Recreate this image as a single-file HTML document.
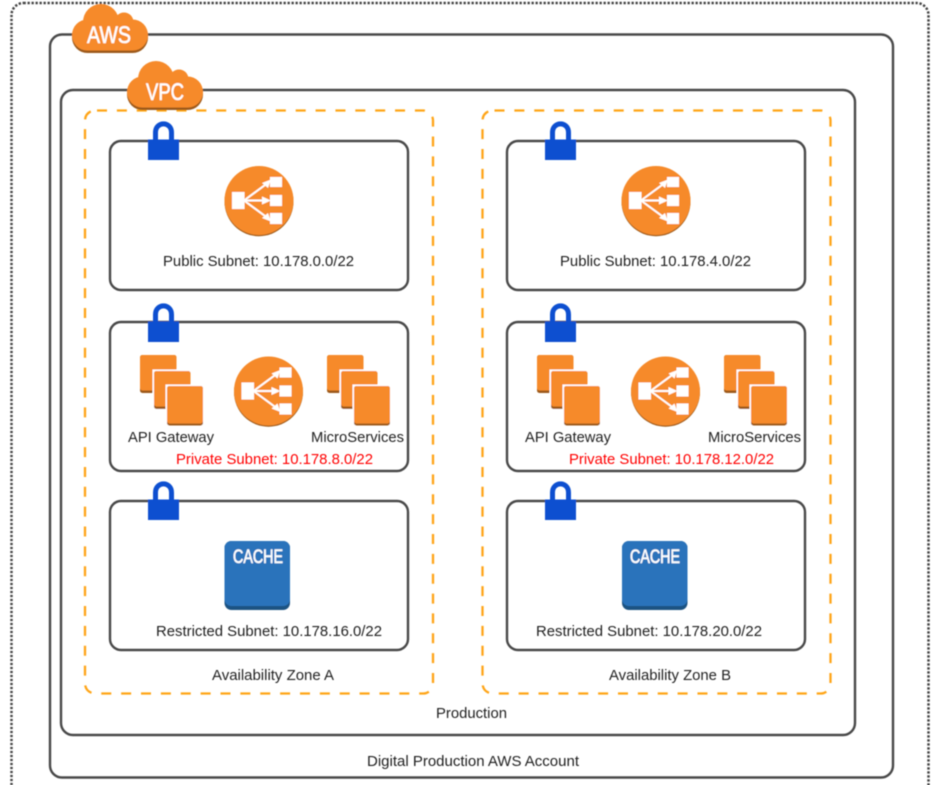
<!DOCTYPE html>
<html><head><meta charset="utf-8"><style>
html,body{margin:0;padding:0;background:#fff;overflow:hidden}
svg{display:block}
text{font-family:"Liberation Sans",sans-serif}
.l{font-size:14.700px;fill:#222}
.r{font-size:14.700px;fill:#f00}
.b{fill:none;stroke:#4a4a4a;stroke-width:2.400}
.d{fill:none;stroke:#ffa414;stroke-width:2.300;stroke-dasharray:10 9.870;stroke-dashoffset:-2}
.w{font-weight:400;fill:#fff;stroke:#fff;stroke-width:.5}
</style></head><body>
<svg width="936" height="785" viewBox="0 0 936 785" xmlns="http://www.w3.org/2000/svg">
<defs>
<filter id="s" x="-5%" y="-5%" width="110%" height="110%"><feGaussianBlur stdDeviation="0.4"/></filter>
<g id="lock"><path d="M155.500,141 V132.500 C155.500,121 171.500,121 171.500,132.500 V141" fill="none" stroke="#0b50d0" stroke-width="5"/><rect x="148" y="139.500" width="31" height="20.500" fill="#0b50d0"/></g>
<g id="cb"><circle cx="29" cy="19" r="18"/><circle cx="52" cy="19" r="9.500"/><circle cx="15.500" cy="32" r="15.500"/><circle cx="60.500" cy="32" r="15.500"/><rect x="15" y="19" width="46" height="28.500"/></g>
<g id="cloud"><use href="#cb" y="2.500" fill="#9d5a1c"/><use href="#cb" fill="#f68a2a"/></g>
<g id="lb">
<circle cx="0" cy="1.200" r="34.500" fill="#9d5a1c"/><circle cx="0" cy="0" r="34.500" fill="#f68a2a"/>
<g fill="#fff"><rect x="-27" y="-8.500" width="12.500" height="17"/><rect x="11" y="-23.500" width="12" height="10"/><rect x="11" y="-5.500" width="12" height="11"/><rect x="11" y="12.500" width="12" height="11"/>
<path d="M3,-17.500 L12,-21 L9,-12.500Z M3,-4 L12,0 L3,4Z M3,17.500 L12,21 L9,12.500Z"/></g>
<path d="M-15,0 L6,-15.500 M-15,0 H6 M-15,0 L6,15.500" stroke="#fff" stroke-width="2" fill="none"/>
</g>
<g id="sq"><rect x="0" y="0" width="36.500" height="38" rx="2.500" fill="#9d5a1c"/><rect x="0" y="0" width="36.500" height="35.500" rx="2.500" fill="#f68a2a"/></g>
<g id="stack"><use href="#sq" x="0" y="0"/><rect x="12.500" y="14.500" width="38" height="40" fill="#fff"/><use href="#sq" x="14" y="16"/><rect x="25.500" y="29.500" width="38" height="41" fill="#fff"/><rect x="27" y="31" width="36" height="39.500" rx="2.500" fill="#9d5a1c"/><rect x="27" y="31" width="36" height="37.500" rx="2.500" fill="#f68a2a"/></g>
<g id="cache"><rect x="224.500" y="541" width="65.500" height="69" rx="7" fill="#1e5282"/><rect x="224.500" y="541" width="65.500" height="65" rx="7" fill="#2b73bb"/></g>
</defs>
<g filter="url(#s)">
<rect x="11.500" y="3" width="917" height="800" rx="12" fill="none" stroke="#444" stroke-width="2.500" stroke-dasharray="2.300 1.700"/>
<rect class="b" x="50" y="34.500" width="843" height="743" rx="12"/>
<rect class="b" x="61" y="90" width="794" height="645" rx="12"/>
<rect class="d" x="85" y="110.500" width="348" height="583" rx="10"/>
<rect class="d" x="482.500" y="110.500" width="348" height="583" rx="10"/>

<rect class="b" x="110" y="141" width="298" height="149" rx="11"/>
<rect class="b" x="110" y="322" width="298" height="149" rx="11"/>
<rect class="b" x="110" y="501" width="298" height="149" rx="11"/>
<rect class="b" x="507" y="141" width="298" height="149" rx="11"/>
<rect class="b" x="507" y="322" width="298" height="149" rx="11"/>
<rect class="b" x="507" y="501" width="298" height="149" rx="11"/>

<use href="#cloud" x="72" y="3"/>
<text x="87" y="43" class="w" font-size="24" textLength="44" lengthAdjust="spacingAndGlyphs">AWS</text>
<use href="#cloud" x="127" y="60"/>
<text x="146" y="100" class="w" font-size="24" textLength="38" lengthAdjust="spacingAndGlyphs">VPC</text>

<use href="#lock"/><use href="#lock" y="182"/><use href="#lock" y="360"/>
<use href="#lock" x="397"/><use href="#lock" x="397" y="182"/><use href="#lock" x="397" y="360"/>

<use href="#lb" x="259" y="200.500"/><use href="#lb" x="656" y="200.500"/>
<use href="#lb" x="268.500" y="391"/><use href="#lb" x="665.500" y="391"/>

<use href="#stack" x="140" y="355"/><use href="#stack" x="327" y="355"/>
<use href="#stack" x="537" y="355"/><use href="#stack" x="724" y="355"/>

<use href="#cache"/><use href="#cache" x="397.500"/>
<text x="233" y="563" class="w" font-size="19" textLength="50" lengthAdjust="spacingAndGlyphs">CACHE</text>
<text x="630" y="563" class="w" font-size="19" textLength="50" lengthAdjust="spacingAndGlyphs">CACHE</text>

<text class="l" x="163" y="266" textLength="191" lengthAdjust="spacingAndGlyphs">Public Subnet: 10.178.0.0/22</text>
<text class="l" x="560" y="266" textLength="191" lengthAdjust="spacingAndGlyphs">Public Subnet: 10.178.4.0/22</text>
<text class="l" x="128" y="442" textLength="86" lengthAdjust="spacingAndGlyphs">API Gateway</text>
<text class="l" x="311" y="442" textLength="93" lengthAdjust="spacingAndGlyphs">MicroServices</text>
<text class="l" x="525" y="442" textLength="86" lengthAdjust="spacingAndGlyphs">API Gateway</text>
<text class="l" x="708" y="442" textLength="93" lengthAdjust="spacingAndGlyphs">MicroServices</text>
<text class="r" x="176" y="464" textLength="197" lengthAdjust="spacingAndGlyphs">Private Subnet: 10.178.8.0/22</text>
<text class="r" x="569" y="464" textLength="205" lengthAdjust="spacingAndGlyphs">Private Subnet: 10.178.12.0/22</text>
<text class="l" x="156" y="636" textLength="226" lengthAdjust="spacingAndGlyphs">Restricted Subnet: 10.178.16.0/22</text>
<text class="l" x="536" y="636" textLength="226" lengthAdjust="spacingAndGlyphs">Restricted Subnet: 10.178.20.0/22</text>
<text class="l" x="212" y="680" textLength="122" lengthAdjust="spacingAndGlyphs">Availability Zone A</text>
<text class="l" x="609" y="680" textLength="122" lengthAdjust="spacingAndGlyphs">Availability Zone B</text>
<text class="l" x="436" y="718" textLength="71" lengthAdjust="spacingAndGlyphs">Production</text>
<text class="l" x="367" y="766" textLength="212" lengthAdjust="spacingAndGlyphs">Digital Production AWS Account</text>
</g>
</svg>
</body></html>
